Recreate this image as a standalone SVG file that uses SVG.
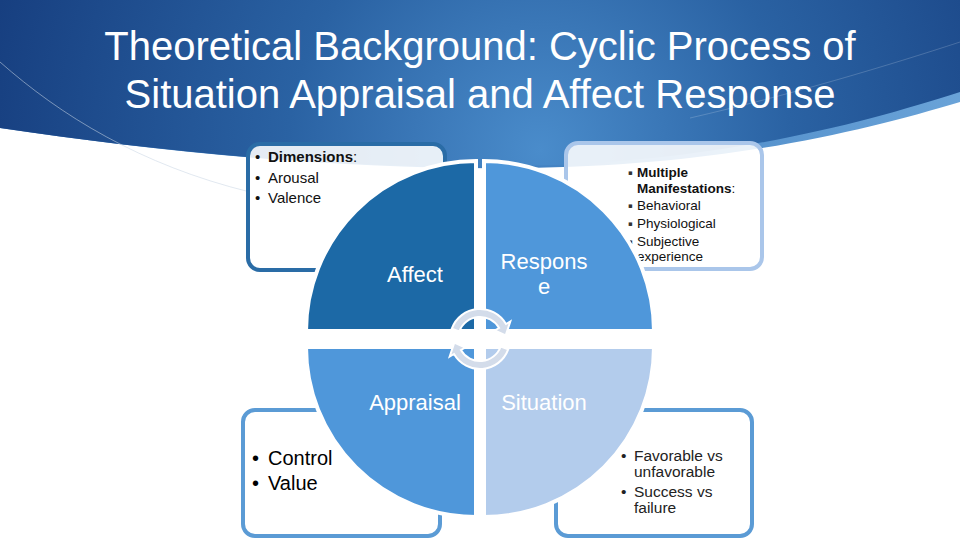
<svg xmlns="http://www.w3.org/2000/svg" width="960" height="540" viewBox="0 0 960 540">
<defs>
<radialGradient id="hdr" cx="540" cy="150" r="560" gradientUnits="userSpaceOnUse">
<stop offset="0" stop-color="#4a8ccb"/>
<stop offset="0.45" stop-color="#2a62a3"/>
<stop offset="1" stop-color="#173f80"/>
</radialGradient>
<linearGradient id="band" x1="500" y1="0" x2="960" y2="0" gradientUnits="userSpaceOnUse">
<stop offset="0" stop-color="#3f7fc0"/>
<stop offset="1" stop-color="#6aa3d8"/>
</linearGradient>
</defs>
<style>
.title{font-family:"Liberation Sans",Arial,sans-serif;font-size:40px;fill:#fff;text-anchor:middle}
.ql{font-family:"Liberation Sans",Arial,sans-serif;font-size:22px;fill:#fff;text-anchor:middle}
.box{fill:#fff;fill-opacity:0.88;stroke-width:4}
.t15{font-family:"Liberation Sans",Arial,sans-serif;font-size:15px;fill:#111}
.t13{font-family:"Liberation Sans",Arial,sans-serif;font-size:13.5px;fill:#111}
.t20{font-family:"Liberation Sans",Arial,sans-serif;font-size:20px;fill:#000}
.t155{font-family:"Liberation Sans",Arial,sans-serif;font-size:15.5px;fill:#222}
.sq{font-family:"DejaVu Sans",sans-serif;font-size:7px;fill:#333}
.b{font-weight:bold}
.quad{stroke:#fff;stroke-width:4}
.arrow{fill:#d3dcea;stroke:#fff;stroke-width:2}
</style>
<rect width="960" height="540" fill="#fff"/>
<g id="header">
<path d="M0,0 H960 V102 C860,132 720,166 520,168 C330,170 150,150 0,128 Z" fill="url(#band)"/>
<path d="M0,0 H960 V92 C860,124 720,162 520,166 C330,170 150,150 0,128 Z" fill="url(#hdr)"/>
<path d="M0,62 C60,115 140,165 250,192" fill="none" stroke="#c9d5e4" stroke-opacity="0.55" stroke-width="1"/>
<path d="M690,118 C790,95 890,65 960,42" fill="none" stroke="#ffffff" stroke-opacity="0.18" stroke-width="1"/>
<text class="title" x="480" y="60">Theoretical Background: Cyclic Process of</text>
<text class="title" x="480" y="108">Situation Appraisal and Affect Response</text>
</g>
<g id="box-dimensions">
<rect class="box" x="248" y="144" width="197" height="126" rx="12" stroke="#2a6ca6"/>
<text class="t15" x="255" y="162">•</text>
<text class="t15" x="268" y="162"><tspan class="b">Dimensions</tspan>:</text>
<text class="t15" x="255" y="183">•</text>
<text class="t15" x="268" y="183">Arousal</text>
<text class="t15" x="255" y="203">•</text>
<text class="t15" x="268" y="203">Valence</text>
</g>
<g id="box-manifestations">
<rect class="box" x="566" y="143" width="196" height="126" rx="12" stroke="#aac6ea"/>
<text class="sq" x="628" y="175">▪</text>
<text class="t13 b" x="637" y="177">Multiple</text>
<text class="t13" x="637" y="193"><tspan class="b">Manifestations</tspan>:</text>
<text class="sq" x="628" y="208">▪</text>
<text class="t13" x="637" y="210">Behavioral</text>
<text class="sq" x="628" y="226">▪</text>
<text class="t13" x="637" y="228">Physiological</text>
<text class="sq" x="628" y="244">▪</text>
<text class="t13" x="637" y="246">Subjective</text>
<text class="t13" x="637" y="261">experience</text>
</g>
<g id="box-control">
<rect class="box" x="243" y="410" width="197" height="126" rx="12" stroke="#5b9bd5"/>
<text class="t20" x="252" y="465">•</text>
<text class="t20" x="268" y="465">Control</text>
<text class="t20" x="252" y="490">•</text>
<text class="t20" x="268" y="490">Value</text>
</g>
<g id="box-situation">
<rect class="box" x="556" y="410" width="196" height="126" rx="12" stroke="#5b9bd5"/>
<text class="t155" x="621" y="461">•</text>
<text class="t155" x="634" y="461">Favorable vs</text>
<text class="t155" x="634" y="477">unfavorable</text>
<text class="t155" x="621" y="497">•</text>
<text class="t155" x="634" y="497">Success vs</text>
<text class="t155" x="634" y="513">failure</text>
</g>
<g id="affect">
<path class="quad" d="M476,331 H306 A170,170 0 0 1 476,161 Z" fill="#1c69a6"/>
<text class="ql" x="415" y="282">Affect</text>
</g>
<g id="response">
<path class="quad" d="M484,331 V161 A170,170 0 0 1 654,331 Z" fill="#4f97da"/>
<text class="ql" x="544" y="269">Respons</text>
<text class="ql" x="544" y="294">e</text>
</g>
<g id="appraisal">
<path class="quad" d="M476,347 V517 A170,170 0 0 1 306,347 Z" fill="#4f97da"/>
<text class="ql" x="415" y="410">Appraisal</text>
</g>
<g id="situation">
<path class="quad" d="M484,347 H654 A170,170 0 0 1 484,517 Z" fill="#b3ccec"/>
<text class="ql" x="544" y="410">Situation</text>
</g>
<g id="connectors">
<path class="arrow" d="M451.8,328.7 A30,30 0 0 1 506.0,324.0 L510.3,321.5 L505.7,335.4 L494.7,330.5 L499.1,328.0 A22,22 0 0 0 459.3,331.5 Z"/>
<path class="arrow" transform="rotate(180 480 339)" d="M451.8,328.7 A30,30 0 0 1 506.0,324.0 L510.3,321.5 L505.7,335.4 L494.7,330.5 L499.1,328.0 A22,22 0 0 0 459.3,331.5 Z"/>
</g>
</svg>
